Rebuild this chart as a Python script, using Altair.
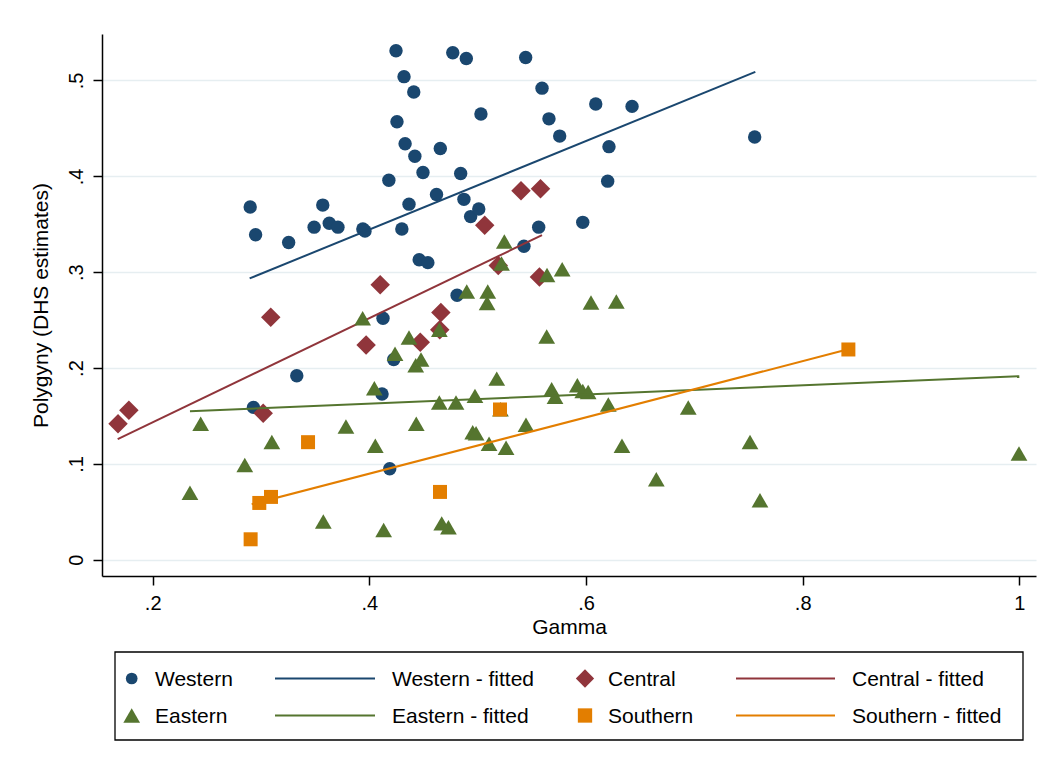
import altair as alt
import pandas as pd

# ---------------- data ----------------
western_x = [0.290, 0.295, 0.3255, 0.349, 0.357, 0.363, 0.371, 0.394, 0.396, 0.418,
             0.4246, 0.4255, 0.430, 0.432, 0.433, 0.4366, 0.441, 0.442, 0.446, 0.4495,
             0.454, 0.462, 0.4655, 0.477, 0.481, 0.4843, 0.4873, 0.4895, 0.4935, 0.501,
             0.503, 0.5427, 0.5443, 0.5563, 0.5594, 0.5658, 0.5757, 0.597, 0.609, 0.620,
             0.6212, 0.6425, 0.7557, 0.4126, 0.333, 0.293, 0.4117, 0.4225, 0.4188]
western_y = [0.368, 0.339, 0.331, 0.347, 0.370, 0.351, 0.347, 0.345, 0.343, 0.396,
             0.531, 0.457, 0.345, 0.504, 0.434, 0.371, 0.488, 0.421, 0.313, 0.404,
             0.310, 0.381, 0.429, 0.529, 0.276, 0.403, 0.376, 0.523, 0.358, 0.366,
             0.465, 0.327, 0.524, 0.347, 0.492, 0.460, 0.442, 0.352, 0.4755, 0.395,
             0.431, 0.473, 0.441, 0.252, 0.192, 0.159, 0.173, 0.209, 0.095]

central_x = [0.168, 0.178, 0.302, 0.309, 0.397, 0.410, 0.447, 0.465, 0.466, 0.5065,
             0.519, 0.540, 0.557, 0.558]
central_y = [0.142, 0.156, 0.153, 0.253, 0.224, 0.287, 0.227, 0.240, 0.258, 0.349,
             0.307, 0.385, 0.295, 0.387]

eastern_x = [0.2344, 0.2443, 0.285, 0.310, 0.3575, 0.3784, 0.3938, 0.4046, 0.4055, 0.4132,
             0.4237, 0.4366, 0.4428, 0.4433, 0.4477, 0.4646, 0.4646, 0.4668, 0.473, 0.480,
             0.4899, 0.4954, 0.4985, 0.4975, 0.5087, 0.5093, 0.5105, 0.5176, 0.521, 0.522,
             0.5246, 0.5262, 0.5446, 0.5637, 0.564, 0.5683, 0.5714, 0.578, 0.592, 0.597,
             0.602, 0.6046, 0.6206, 0.628, 0.6332, 0.6649, 0.6944, 0.7514, 0.7606, 0.9997]
eastern_y = [0.070, 0.142, 0.099, 0.123, 0.040, 0.139, 0.252, 0.179, 0.119, 0.031,
             0.215, 0.232, 0.203, 0.142, 0.209, 0.240, 0.164, 0.038, 0.034, 0.164,
             0.280, 0.133, 0.132, 0.171, 0.268, 0.280, 0.121, 0.189, 0.157, 0.309,
             0.332, 0.117, 0.141, 0.233, 0.297, 0.178, 0.170, 0.303, 0.182, 0.176,
             0.175, 0.2685, 0.162, 0.2695, 0.119, 0.084, 0.159, 0.123, 0.062, 0.111]

southern_x = [0.2904, 0.2984, 0.3092, 0.3434, 0.4652, 0.5206, 0.8422]
southern_y = [0.0214, 0.0593, 0.0656, 0.1227, 0.0708, 0.1568, 0.2194]

# fitted lines (end points)
western_fit_x = [0.2895, 0.7563]
western_fit_y = [0.2935, 0.5090]
central_fit_x = [0.1677, 0.5594]
central_fit_y = [0.1258, 0.3387]
eastern_fit_x = [0.2344, 1.0000]
eastern_fit_y = [0.1550, 0.1915]
southern_fit_x = [0.2914, 0.8420]
southern_fit_y = [0.0580, 0.2196]

x_ticks = [0.2, 0.4, 0.6, 0.8, 1.0]
y_ticks = [0.0, 0.1, 0.2, 0.3, 0.4, 0.5]

legend_labels = ["Western", "Western - fitted", "Central", "Central - fitted",
                 "Eastern", "Eastern - fitted", "Southern", "Southern - fitted"]

# ---------------- styles ----------------
NAVY = "#1a476f"
MAROON = "#90353b"
GREEN = "#55752f"
ORANGE = "#e37e00"
FONT = "Liberation Sans"
W, H = 934, 542

xs = alt.Scale(domain=[0.1532, 1.0154], nice=False, zero=False)
ys = alt.Scale(domain=[-0.0169, 0.5485], nice=False, zero=False)

lab_expr = ("datum.value == 0 ? '0' : (datum.value >= 1 ? '1' : "
            "substring(format(datum.value, '.1f'), 1))")

x_axis = alt.Axis(values=x_ticks, labelExpr=lab_expr, grid=False, title="Gamma",
                  labelFont=FONT, labelFontSize=20, labelColor="black", labelPadding=8,
                  labelFlush=False, tickSize=9, tickColor="black", tickWidth=1.5,
                  domainColor="black", domainWidth=1.5,
                  titleFont=FONT, titleFontSize=21, titleFontWeight="normal",
                  titleColor="black", titleY=57, titleBaseline="alphabetic")
y_axis = alt.Axis(values=y_ticks, labelExpr=lab_expr, grid=True, gridColor="#e6eef1",
                  gridWidth=1.5, title="Polygyny (DHS estimates)",
                  labelFont=FONT, labelFontSize=20, labelColor="black", labelAngle=270,
                  labelAlign="center", labelBaseline="alphabetic", labelPadding=11,
                  labelFlush=False, tickSize=9, tickColor="black", tickWidth=1.5,
                  domainColor="black", domainWidth=1.5,
                  titleFont=FONT, titleFontSize=21, titleFontWeight="normal",
                  titleColor="black", titleAngle=270, titleX=-55,
                  titleBaseline="alphabetic")


def X():
    return alt.X("x:Q", scale=xs, axis=x_axis)


def Y():
    return alt.Y("y:Q", scale=ys, axis=y_axis)


def scatter(xv, yv, shape, color, size):
    df = pd.DataFrame({"x": xv, "y": yv})
    return alt.Chart(df).mark_point(shape=shape, filled=True, size=size, color=color,
                                    opacity=1, strokeWidth=0).encode(x=X(), y=Y())


def fitted(xv, yv, color):
    df = pd.DataFrame({"x": xv, "y": yv})
    return alt.Chart(df).mark_line(color=color, strokeWidth=2).encode(x=X(), y=Y())


one = pd.DataFrame({"a": [0]})

layers = []
# outer graph-region border
layers.append(alt.Chart(one).mark_rect(fill="white", fillOpacity=0, stroke="#e3ebee",
                                       strokeWidth=1.5).encode(
    x=alt.value(-95), x2=alt.value(1200), y=alt.value(-27), y2=alt.value(900)))

layers += [
    scatter(western_x, western_y, "circle", NAVY, 180),
    fitted(western_fit_x, western_fit_y, NAVY),
    scatter(central_x, central_y, "diamond", MAROON, 380),
    fitted(central_fit_x, central_fit_y, MAROON),
    scatter(eastern_x, eastern_y, "triangle-up", GREEN, 280),
    fitted(eastern_fit_x, eastern_fit_y, GREEN),
    scatter(southern_x, southern_y, "square", ORANGE, 196),
    fitted(southern_fit_x, southern_fit_y, ORANGE),
]

# ---------------- legend (drawn below the plot) ----------------
layers.append(alt.Chart(one).mark_rect(fill="white", stroke="black", strokeWidth=1.3).encode(
    x=alt.value(13), x2=alt.value(921), y=alt.value(618), y2=alt.value(706)))

row_y = [644.5, 681.5]
sym_x = [29.7, 483]
line_x = [(173, 273), (634, 733)]
sym_text_x = [53, 506]
line_text_x = [290, 750]
entries = [
    ("circle", NAVY, 137), ("diamond", MAROON, 335),
    ("triangle-up", GREEN, 279), ("square", ORANGE, 205),
]
line_cols = [NAVY, MAROON, GREEN, ORANGE]

for i in range(4):
    r, c = divmod(i, 2)
    shape, col, sz = entries[i]
    sym_label = legend_labels[r * 4 + c * 2]
    line_label = legend_labels[r * 4 + c * 2 + 1]
    layers.append(alt.Chart(one).mark_point(shape=shape, filled=True, size=sz, color=col,
                                            opacity=1, strokeWidth=0).encode(
        x=alt.value(sym_x[c]), y=alt.value(row_y[r])))
    layers.append(alt.Chart(one).mark_text(text=sym_label, align="left", baseline="middle",
                                           font=FONT, fontSize=21, color="black", dy=1).encode(
        x=alt.value(sym_text_x[c]), y=alt.value(row_y[r])))
    layers.append(alt.Chart(one).mark_rule(color=line_cols[i], strokeWidth=2).encode(
        x=alt.value(line_x[c][0]), x2=alt.value(line_x[c][1]), y=alt.value(row_y[r])))
    layers.append(alt.Chart(one).mark_text(text=line_label, align="left", baseline="middle",
                                           font=FONT, fontSize=21, color="black", dy=1).encode(
        x=alt.value(line_text_x[c]), y=alt.value(row_y[r])))

chart = alt.layer(*layers).properties(
    width=W, height=H,
    autosize=alt.AutoSizeParams(type="none"),
    padding={"left": 94, "top": 26, "right": 12, "bottom": 186},
    background="white",
).configure_view(stroke=None)

chart.save("out.html", embed_options={"renderer": "svg", "actions": False})
